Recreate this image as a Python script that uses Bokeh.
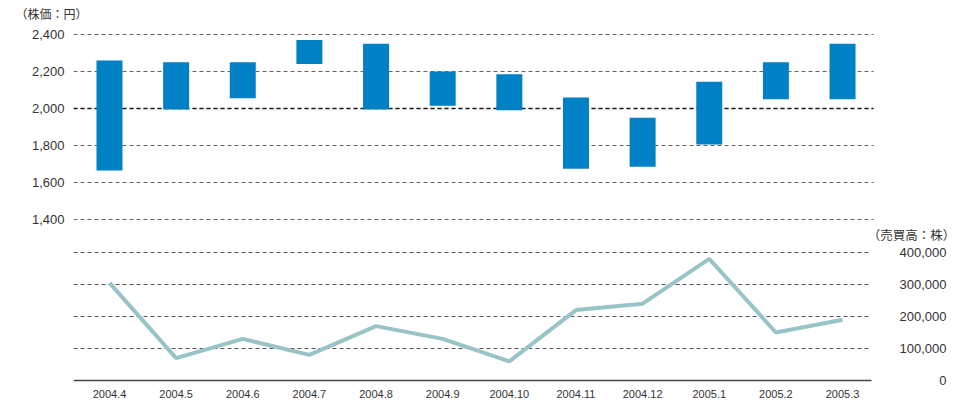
from bokeh.plotting import figure
from bokeh.models import (Range1d, FixedTicker, Grid, Title,
                          ColumnDataSource, NumeralTickFormatter)
from bokeh.core.properties import value
from bokeh.embed import file_html
from bokeh.resources import INLINE

# ---- data ----
months = ["2004.4", "2004.5", "2004.6", "2004.7", "2004.8", "2004.9",
          "2004.10", "2004.11", "2004.12", "2005.1", "2005.2", "2005.3"]
price_high = [2260, 2250, 2250, 2370, 2350, 2200, 2185, 2060, 1950, 2145, 2250, 2350]
price_low = [1665, 1995, 2055, 2240, 1995, 2015, 1990, 1675, 1685, 1805, 2050, 2050]
volume = [305000, 70000, 130000, 80000, 170000, 130000, 60000, 220000, 240000, 380000, 150000, 190000]
price_ticks = [1400, 1600, 1800, 2000, 2200, 2400]
price_base = [2000]
vol_ticks = [0, 100000, 200000, 300000, 400000]
vol_tick_labels = ["0", "100,000", "200,000", "300,000", "400,000"]
price_title = "（株価：円）"
vol_title = "（売買高：株）"

idx = list(range(len(months)))
FONT = "Liberation Sans"
CJK = "Noto Sans CJK JP"
TXT = "#333333"
X0, X1 = -0.54, 11.44          # extent of the chart area (category units)

p = figure(width=960, height=402,
           x_range=Range1d(X0, 12.77),
           y_range=Range1d(410.8, 2464.9),
           x_axis_location=None,
           output_backend="svg", toolbar_location=None,
           min_border_left=73, min_border_right=0,
           min_border_top=22, min_border_bottom=0)
p.extra_y_ranges = {"vol": Range1d(-68750, 1118750)}
p.outline_line_color = None
p.background_fill_color = "white"
p.border_fill_color = "white"

# grids
p.xgrid.visible = False
p.ygrid.ticker = FixedTicker(ticks=price_ticks)
p.ygrid.grid_line_color = "#666666"
p.ygrid.grid_line_dash = "4 3"
p.ygrid.grid_line_width = 1
p.ygrid.cross_bounds = (X0, X1 + 0.03)

p.add_layout(Grid(dimension=1, ticker=FixedTicker(ticks=price_base),
                  cross_bounds=(X0, X1 + 0.03),
                  grid_line_color="#1a1a1a", grid_line_dash="4 3", grid_line_width=1.3))

p.add_layout(Grid(dimension=1, ticker=FixedTicker(ticks=vol_ticks[1:]), y_range_name="vol",
                  cross_bounds=(X0, X1),
                  grid_line_color="#555555", grid_line_dash="4 3", grid_line_width=1))

# baseline of the volume panel (x axis line)
p.add_layout(Grid(dimension=1, ticker=FixedTicker(ticks=vol_ticks[:1]), y_range_name="vol",
                  cross_bounds=(X0, X1),
                  grid_line_color="#444444", grid_line_width=1.5))

# left axis (price)
ya = p.yaxis[0]
ya.ticker = FixedTicker(ticks=price_ticks)
ya.formatter = NumeralTickFormatter(format="0,0")
ya.axis_line_color = None
ya.major_tick_line_color = None
ya.minor_tick_line_color = None
ya.major_tick_out = 0
ya.minor_tick_out = 0
ya.major_label_standoff = 9
ya.major_label_text_font = FONT
ya.major_label_text_font_size = "13px"
ya.major_label_text_color = TXT

# bars (price range)
p.vbar(x=idx, bottom=price_low, top=price_high, width=0.39,
       fill_color="#0081C6", line_color=None)

# volume line
p.line(x=idx, y=volume, y_range_name="vol", line_color="#98C4C8", line_width=4)

# month labels under the baseline
msrc = ColumnDataSource(dict(x=idx, y=[0] * len(idx), text=months))
p.text(x="x", y="y", text="text", source=msrc, y_range_name="vol",
       y_offset=13, text_align="center", text_baseline="middle",
       text_font=value(FONT), text_font_size="11px", text_color=TXT)

# right-side volume scale labels
src = ColumnDataSource(dict(x=[12.56] * len(vol_ticks), y=vol_ticks, text=vol_tick_labels))
p.text(x="x", y="y", text="text", source=src, y_range_name="vol",
       text_align="right", text_baseline="middle",
       text_font=value(FONT), text_font_size="13px", text_color=TXT)

# volume title
p.text(x=[12.69], y=[456250], text=[vol_title], y_range_name="vol",
       text_align="right", text_baseline="middle",
       text_font=value(CJK), text_font_size="12.5px", text_color=TXT)

# price title
p.add_layout(Title(text=price_title, align="left", offset=-58, standoff=2,
                   text_font=CJK, text_font_size="12px", text_font_style="normal",
                   text_color=TXT), "above")

open("out.html", "w").write(file_html(p, INLINE))
